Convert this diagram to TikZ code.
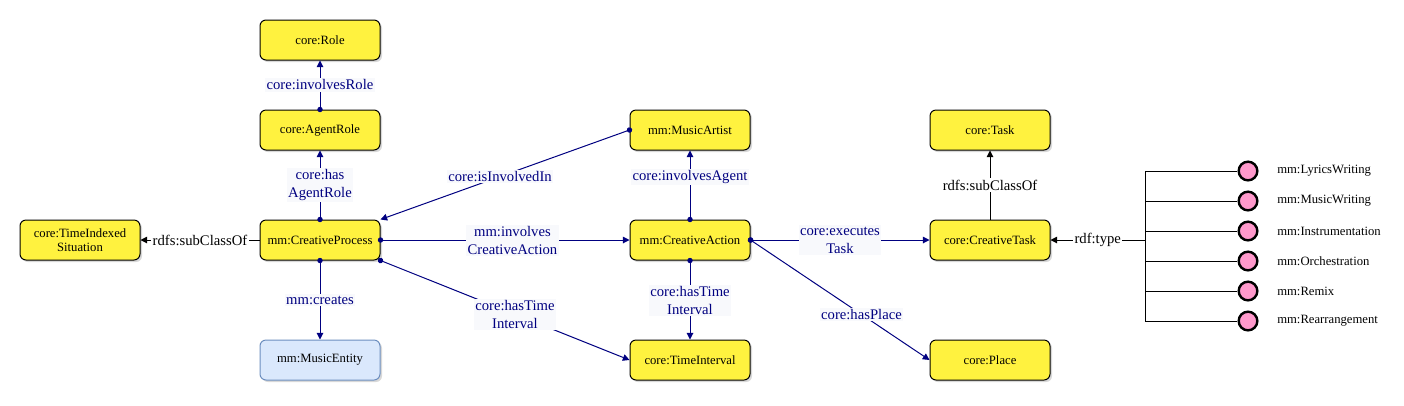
\documentclass[tikz,border=0pt]{standalone}
\usepackage{fontspec}
\setmainfont{Liberation Serif}
\usepackage{tikz}
\usetikzlibrary{arrows.meta,positioning,shadows}
\usepackage{xcolor}
\definecolor{ClassFill}{HTML}{FFF23F}
\definecolor{EntityFill}{HTML}{DAE8FC}
\definecolor{EntityLine}{HTML}{6C8EBF}
\definecolor{RelColor}{HTML}{000080}
\definecolor{LabelBg}{HTML}{F8F9FC}
\definecolor{InstFill}{HTML}{FF99CC}

\tikzset{
  cls/.style={rectangle,rounded corners=4.5pt,draw=black,line width=0.75pt,
              fill=ClassFill,minimum width=90pt,minimum height=30pt,
              inner sep=0pt,align=center,
              font=\rmfamily\fontsize{9.5}{11}\selectfont,
              drop shadow={shadow xshift=1.5pt,shadow yshift=-1.5pt,fill=black!30}},
  ent/.style={cls,fill=EntityFill,draw=EntityLine},
  rel/.style={{Circle[length=4pt]}-{Triangle[length=5pt,width=5pt]},
              RelColor,line width=0.75pt,shorten <=-2pt},
  sub/.style={-{Triangle[length=5pt,width=5pt]},black,line width=0.75pt},
  lbl/.style={fill=LabelBg,inner sep=1pt,align=center,text=RelColor,
              font=\rmfamily\fontsize{11}{13.5}\selectfont},
  sublbl/.style={lbl,fill=white,text=black},
  inst/.style={circle,draw=black,line width=1.8pt,fill=InstFill,
               minimum size=14pt,inner sep=0pt},
  instlbl/.style={anchor=west,inner sep=0pt,
                  font=\rmfamily\fontsize{9.5}{11}\selectfont}
}

\begin{document}
\begin{tikzpicture}[x=0.75pt,y=-0.75pt]
  \useasboundingbox (0,0) rectangle (1404,405);

  % classes
  \node[cls] (role)    at (320,40)  {core:Role};
  \node[cls] (agrole)  at (320,130) {core:AgentRole};
  \node[cls] (proc)    at (320,240) {mm:CreativeProcess};
  \node[cls] (tis)     at (80,240)  {core:TimeIndexed\\Situation};
  \node[ent] (entity)  at (320,360) {mm:MusicEntity};
  \node[cls] (artist)  at (690,130) {mm:MusicArtist};
  \node[cls] (action)  at (690,240) {mm:CreativeAction};
  \node[cls] (tint)    at (690,360) {core:TimeInterval};
  \node[cls] (task)    at (990,130) {core:Task};
  \node[cls] (ctask)   at (990,240) {core:CreativeTask};
  \node[cls] (place)   at (990,360) {core:Place};

  % properties
  \draw[rel] (agrole.north) -- (role.south)
    node[lbl,midway] {core:involvesRole};
  \draw[rel] (proc.north) -- (agrole.south)
    node[lbl,midway] {core:has\\AgentRole};
  \draw[sub] (proc.west) -- (tis.east)
    node[sublbl,midway] {rdfs:subClassOf};
  \draw[rel] (proc.south) -- (entity.north)
    node[lbl,midway] {mm:creates};
  \draw[rel] (artist.west) -- (proc.north east)
    node[lbl,pos=0.52] {core:isInvolvedIn};
  \draw[rel] (proc.east) -- (action.west)
    node[lbl,pos=0.53] {mm:involves\\CreativeAction};
  \draw[rel] (proc.south east) -- (tint.west)
    node[lbl,pos=0.54] {core:hasTime\\Interval};
  \draw[rel] (action.north) -- (artist.south)
    node[lbl,pos=0.62] {core:involvesAgent};
  \draw[rel] (action.south) -- (tint.north)
    node[lbl,midway] {core:hasTime\\Interval};
  \draw[rel] (action.east) -- (ctask.west)
    node[lbl,midway] {core:executes\\Task};
  \draw[rel] (action.east) -- (place.west)
    node[lbl,pos=0.62] {core:hasPlace};
  \draw[sub] (ctask.north) -- (task.south)
    node[sublbl,midway] {rdfs:subClassOf};

  % instances of core:CreativeTask
  \coordinate (fork) at (1145,240);
  \foreach \y/\name [count=\i] in {171/LyricsWriting,201/MusicWriting,
      231/Instrumentation,261/Orchestration,291/Remix,321/Rearrangement}{
    \node[inst] (i\i) at (1248,\y) {};
    \node[instlbl] (t\i) at (1277,\y) {mm:\name};
    \draw[line width=0.75pt] (1145,\y) -- (i\i.west);
  }
  \draw[line width=0.75pt] (1145,171) -- (1145,321);
  \draw[sub] (fork) -- (ctask.east)
    node[sublbl,midway] {rdf:type};
\end{tikzpicture}
\end{document}
